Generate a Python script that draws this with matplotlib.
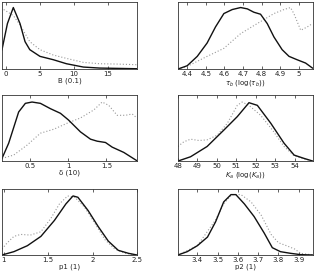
import matplotlib
matplotlib.use("Agg")
import matplotlib.pyplot as plt

# Panel 1: B (0.1)
b_x_solid = [-0.6, 0.2, 1.07, 2.06, 2.8, 3.5, 5.0, 6.96, 8.9, 11.4, 13.8, 19.3]
b_y_solid = [0.29, 0.68, 0.92, 0.68, 0.41, 0.29, 0.19, 0.14, 0.08, 0.03, 0.015, 0.005]
b_x_dot = [-0.35, 1.07, 2.06, 3.5, 5.0, 6.96, 8.9, 11.4, 13.8, 16.3, 19.3]
b_y_dot = [0.89, 0.80, 0.66, 0.41, 0.29, 0.21, 0.16, 0.10, 0.08, 0.075, 0.065]

# Panel 2: tau_b
t_x_solid = [4.35, 4.40, 4.454, 4.507, 4.552, 4.597, 4.642, 4.687, 4.723, 4.758, 4.794,
             4.83, 4.866, 4.91, 4.947, 4.99, 5.036, 5.073]
t_y_solid = [0.0, 0.05, 0.19, 0.39, 0.63, 0.83, 0.89, 0.92, 0.90, 0.85, 0.82,
             0.68, 0.48, 0.29, 0.19, 0.14, 0.09, 0.015]
t_x_dot = [4.35, 4.40, 4.507, 4.597, 4.687, 4.776, 4.866, 4.92, 4.955, 4.973, 5.01, 5.045, 5.073]
t_y_dot = [0.005, 0.04, 0.19, 0.31, 0.53, 0.68, 0.83, 0.89, 0.92, 0.83, 0.58, 0.63, 0.68]

# Panel 3: delta (10)
d_x_solid = [0.127, 0.215, 0.346, 0.434, 0.522, 0.632, 0.763, 0.895, 1.0, 1.158, 1.29,
             1.377, 1.487, 1.575, 1.728, 1.90]
d_y_solid = [0.04, 0.27, 0.74, 0.87, 0.89, 0.87, 0.79, 0.72, 0.62, 0.44, 0.33,
             0.30, 0.28, 0.21, 0.13, 0.005]
d_x_dot = [0.127, 0.28, 0.456, 0.632, 0.807, 0.982, 1.158, 1.333, 1.443, 1.53, 1.64,
           1.75, 1.838, 1.90]
d_y_dot = [0.04, 0.09, 0.24, 0.42, 0.48, 0.57, 0.65, 0.77, 0.89, 0.84, 0.69,
           0.69, 0.71, 0.65]

# Panel 4: K_a
k_x_solid = [48.0, 48.65, 49.5, 50.37, 51.05, 51.65, 52.08, 52.77, 53.45, 53.97, 54.48, 54.93]
k_y_solid = [0.0, 0.065, 0.22, 0.47, 0.67, 0.88, 0.84, 0.57, 0.27, 0.09, 0.04, 0.0]
k_x_dot = [48.0, 48.3, 48.65, 49.08, 49.5, 50.02, 50.54, 51.05, 51.3, 51.65, 52.25,
           52.85, 53.45, 53.97, 54.48, 54.93]
k_y_dot = [0.22, 0.29, 0.33, 0.31, 0.32, 0.39, 0.57, 0.84, 0.89, 0.84, 0.69,
           0.47, 0.22, 0.08, 0.03, 0.0]

# Panel 5: p1
p1_x_solid = [0.98, 1.114, 1.266, 1.418, 1.57, 1.70, 1.78, 1.835, 1.95, 2.063, 2.177,
              2.29, 2.405, 2.5]
p1_y_solid = [0.0, 0.05, 0.14, 0.28, 0.52, 0.77, 0.89, 0.87, 0.67, 0.43, 0.21,
              0.07, 0.025, 0.0]
p1_x_dot = [0.98, 1.04, 1.114, 1.19, 1.30, 1.418, 1.53, 1.627, 1.72, 1.80, 1.91,
            2.025, 2.14, 2.25, 2.37, 2.5]
p1_y_dot = [0.09, 0.185, 0.28, 0.31, 0.30, 0.35, 0.55, 0.77, 0.89, 0.87, 0.72,
            0.48, 0.23, 0.09, 0.025, 0.0]

# Panel 6: p2
p2_x_solid = [3.304, 3.35, 3.40, 3.45, 3.49, 3.53, 3.566, 3.59, 3.632, 3.68, 3.73,
              3.77, 3.81, 3.86, 3.91, 3.97]
p2_y_solid = [0.0, 0.05, 0.14, 0.27, 0.50, 0.80, 0.91, 0.91, 0.77, 0.58, 0.33,
              0.11, 0.05, 0.025, 0.005, 0.0]
p2_x_dot = [3.304, 3.40, 3.49, 3.53, 3.57, 3.615, 3.665, 3.715, 3.764, 3.80, 3.84,
            3.88, 3.91, 3.97]
p2_y_dot = [0.0, 0.14, 0.53, 0.77, 0.91, 0.91, 0.80, 0.60, 0.31, 0.185, 0.14,
            0.09, 0.025, 0.0]

panels = [
    dict(xs=b_x_solid, ys=b_y_solid, xd=b_x_dot, yd=b_y_dot, xlim=(-0.6, 19.3),
         ticks=[0, 5, 10, 15], labels=["0", "5", "10", "15"], xlabel="B (0.1)",
         rect=[0.0063, 0.747, 0.427, 0.245]),
    dict(xs=t_x_solid, ys=t_y_solid, xd=t_x_dot, yd=t_y_dot, xlim=(4.35, 5.075),
         ticks=[4.4, 4.5, 4.6, 4.7, 4.8, 4.9, 5.0],
         labels=["4.4", "4.5", "4.6", "4.7", "4.8", "4.9", "5"],
         xlabel=r"$\tau_b$ (log($\tau_b$))", rect=[0.563, 0.747, 0.427, 0.245]),
    dict(xs=d_x_solid, ys=d_y_solid, xd=d_x_dot, yd=d_y_dot, xlim=(0.127, 1.90),
         ticks=[0.5, 1.0, 1.5], labels=["0.5", "1", "1.5"], xlabel="δ (10)",
         rect=[0.0063, 0.410, 0.427, 0.243]),
    dict(xs=k_x_solid, ys=k_y_solid, xd=k_x_dot, yd=k_y_dot, xlim=(48.0, 54.93),
         ticks=[48, 49, 50, 51, 52, 53, 54],
         labels=["48", "49", "50", "51", "52", "53", "54"],
         xlabel=r"$K_a$ (log($K_a$))", rect=[0.563, 0.410, 0.427, 0.243]),
    dict(xs=p1_x_solid, ys=p1_y_solid, xd=p1_x_dot, yd=p1_y_dot, xlim=(0.98, 2.5),
         ticks=[1.0, 1.5, 2.0, 2.5], labels=["1", "1.5", "2", "2.5"], xlabel="p1 (1)",
         rect=[0.0063, 0.066, 0.427, 0.243]),
    dict(xs=p2_x_solid, ys=p2_y_solid, xd=p2_x_dot, yd=p2_y_dot, xlim=(3.304, 3.97),
         ticks=[3.4, 3.5, 3.6, 3.7, 3.8, 3.9],
         labels=["3.4", "3.5", "3.6", "3.7", "3.8", "3.9"], xlabel="p2 (1)",
         rect=[0.563, 0.066, 0.427, 0.243]),
]

fig = plt.figure(figsize=(3.16, 2.73), dpi=100)
for p in panels:
    ax = fig.add_axes(p["rect"])
    ax.plot(p["xd"], p["yd"], color="#999999", linestyle=(0, (1, 1.8)), linewidth=0.8)
    ax.plot(p["xs"], p["ys"], color="#111111", linestyle="-", linewidth=1.0)
    ax.set_xlim(*p["xlim"])
    ax.set_ylim(0, 1)
    ax.set_xticks(p["ticks"])
    ax.set_xticklabels(p["labels"])
    ax.set_yticks([])
    ax.tick_params(axis="x", direction="in", length=2, width=0.5, labelsize=5,
                   pad=1.5, top=True, colors="#222222")
    ax.set_xlabel(p["xlabel"], fontsize=5, labelpad=0.5, color="#222222")
    for s in ax.spines.values():
        s.set_linewidth(0.6)
        s.set_color("#333333")

fig.savefig("out.png", dpi=100)
